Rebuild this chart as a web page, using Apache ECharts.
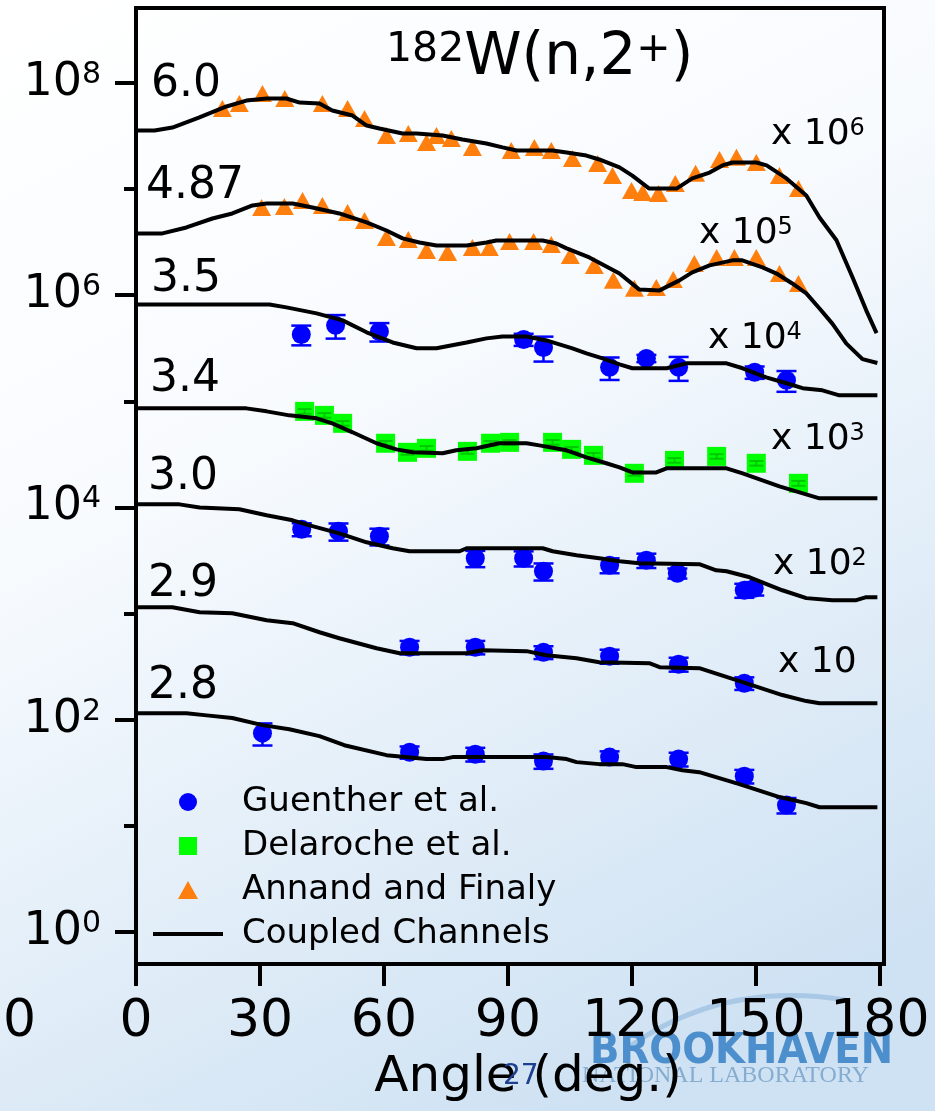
<!DOCTYPE html>
<html><head><meta charset="utf-8">
<script src="https://cdn.jsdelivr.net/npm/echarts@6/dist/echarts.min.js"></script>
<style>html,body{margin:0;padding:0;background:#fff;}#c{width:935px;height:1111px;}</style>
</head><body><div id="c"></div>
<script>
const FONT = '"DejaVu Sans", sans-serif';

// Energies (MeV) and the scale exponent applied to each curve
const energyLabels = ['6.0', '4.87', '3.5', '3.4', '3.0', '2.9', '2.8'];
const scaleExps = [6, 5, 4, 3, 2, 1, 0];
const scaleLabels = ['6', '5', '4', '3', '2', ''];

// Tick values (log10 decades)
const xTicks = [0, 30, 60, 90, 120, 150, 180];
const yMajor = [0, 2, 4, 6, 8];
const yMinor = [1, 3, 5, 7];

// Coupled-channels curves: [angle (deg), dsigma/dOmega (unscaled)]
const cc60 = [[0,35.6],[4.5,35.6],[8.8,38.0],[15.2,47.2],[21.9,60.0],[26.7,68.2],[31.6,71.3],[36.4,71.3],[39.6,65.3],[44.4,64.0],[47.5,55.0],[52.4,49.3],[55.8,39.7],[58.9,37.2],[64.5,33.4],[67.9,33.4],[74.2,32.0],[79.0,29.3],[84.8,26.9],[88.7,24.7],[92.1,23.1],[100.8,23.1],[104.2,22.1],[109.0,20.7],[112.1,19.0],[117.0,16.0],[120.1,13.4],[124.2,10.1],[130.8,10.1],[134.6,12.6],[138.8,14.3],[141.9,16.7],[144.3,17.8],[150.1,17.8],[152.6,16.7],[157.4,12.6],[162.2,8.7],[165.4,5.4],[169.5,3.3],[173.4,1.47],[176.7,0.72],[179.2,0.44]];
const cc487 = [[0,38.2],[6.4,38.2],[12.2,43.5],[18.5,52.8],[23.3,58.9],[28.2,70.1],[31.6,73.2],[37.9,73.2],[42.7,67.1],[49.2,58.9],[55.8,48.5],[60.6,40.7],[64.5,34.3],[68.6,31.4],[72.7,29.4],[80.0,29.4],[84.8,31.4],[87.2,32.8],[98.4,32.8],[101.7,30.7],[104.2,27.6],[109.7,22.7],[112.9,19.5],[117.0,16.0],[121.8,11.3],[126.7,11.1],[131.5,13.8],[134.6,16.4],[138.8,19.1],[144.3,21.3],[146.7,21.3],[151.6,18.3],[155.0,16.0],[158.8,12.9],[162.2,10.4],[165.4,7.5],[168.5,5.4],[171.9,3.5],[175.8,2.5],[179.4,2.3]];
const cc35 = [[0,81.9],[32.3,81.9],[36.4,76.8],[43.7,67.4],[50.0,57.9],[55.8,44.7],[62.1,35.9],[67.9,31.6],[72.7,31.6],[80.0,35.9],[84.8,39.2],[88.7,40.9],[94.5,40.9],[99.3,37.5],[105.6,31.6],[109.0,28.3],[112.9,25.4],[117.0,22.3],[120.1,20.5],[128.4,20.5],[133.2,22.8],[142.9,22.8],[146.8,20.5],[152.5,16.8],[157.4,14.8],[161.3,13.3],[166.1,12.7],[170.2,11.4],[179.4,11.4]];
const cc34 = [[0,85.9],[26.7,85.9],[31.6,80.5],[37.1,73.8],[43.7,69.2],[47.5,62.1],[52.4,51.1],[58.2,40.3],[63.0,35.3],[66.9,33.1],[74.2,32.4],[77.5,34.6],[82.4,36.1],[87.9,40.3],[94.5,40.3],[97.6,38.5],[104.2,34.6],[109.0,29.7],[113.8,26.1],[117.0,23.9],[120.1,21.4],[125.9,21.4],[128.4,23.4],[142.9,23.4],[146.8,21.0],[155.7,15.8],[165.4,12.2],[179.4,12.2]];
const cc30 = [[0,107],[10.5,107],[15.4,100],[25.0,96.2],[31.6,84.5],[37.9,75.7],[42.0,67.9],[49.2,57.1],[55.8,47.0],[62.1,41.3],[66.2,38.7],[78.3,38.7],[80.0,41.3],[98.4,41.3],[100.8,38.7],[106.6,35.5],[112.1,33.2],[117.0,31.1],[121.8,29.8],[136.3,29.2],[140.4,25.6],[142.9,25.1],[148.5,22.0],[156.4,16.6],[162.2,14.0],[168.5,13.4],[174.3,13.4],[176.7,14.3],[179.4,14.3]];
const cc29 = [[0,115],[8.8,115],[15.4,103],[23.3,101],[31.6,86.7],[37.9,81.3],[44.4,66.8],[49.2,58.6],[58.2,47.2],[63.8,42.4],[80.0,42.4],[83.8,45.2],[94.5,44.3],[99.3,40.6],[106.6,38.0],[112.1,34.9],[124.2,34.1],[126.7,31.3],[136.3,30.6],[146.8,22.6],[156.4,17.1],[162.2,15.0],[165.4,14.3],[179.4,14.3]];
const cc28 = [[0,115],[12.2,115],[17.1,110],[23.3,104],[30.6,89.0],[37.1,81.5],[44.4,70.1],[50.4,57.6],[60.6,46.4],[70.3,42.6],[74.2,42.6],[76.6,44.5],[99.3,44.5],[104.2,42.6],[106.6,39.9],[112.1,38.2],[117.7,38.2],[121.1,35.8],[128.4,35.8],[132.2,33.5],[136.3,32.1],[146.0,24.8],[155.7,18.7],[162.2,16.4],[165.4,15.0],[179.4,15.0]];

// Annand and Finaly: [angle, value]
const annand60 = [[20.9,57.4],[25.0,64.0],[30.6,79.4],[36.0,71.3],[45.1,64.0],[51.2,57.4],[55.3,46.2],[60.6,32.0],[65.9,33.4],[70.3,27.5],[72.7,32.0],[76.3,29.9],[81.4,24.7],[90.8,23.1],[96.4,24.7],[100.5,23.1],[105.6,19.4],[111.7,17.4],[115.3,13.4],[119.9,9.7],[122.6,9.3],[126.4,9.1],[130.5,11.3],[135.4,14.1],[141.2,19.0],[145.3,19.9],[150.1,17.8],[155.7,13.4],[160.3,10.1]];
const annand487 = [[30.4,67.1],[35.9,68.6],[40.3,78.1],[45.1,70.1],[51.2,60.2],[55.3,50.6],[60.6,35.0],[65.9,33.5],[70.3,26.4],[75.4,25.3],[81.4,28.2],[85.5,28.2],[90.4,32.1],[96.2,32.1],[100.5,30.1],[105.1,23.7],[110.9,19.1],[115.5,13.8],[120.6,11.6],[125.9,11.8],[130.0,14.1],[135.1,19.9],[140.5,22.7],[144.8,22.7],[150.1,22.7],[155.7,16.0],[160.3,12.9]];

// Guenther et al.: [angle, value, error]
const guen35 = [[40.0,42.7,9],[48.3,52.0,13],[58.9,45.6,9],[93.8,38.3,5],[98.6,32.2,8.5],[114.6,20.9,5],[123.5,25.4,2],[131.3,20.9,5.3],[149.7,18.8,2.5],[157.4,15.8,3.5]];
const guen30 = [[40.1,62.3,8.7],[49.0,59.7,11],[58.9,53.5,9.6],[82.1,33.2,5.8],[93.8,33.2,5.4],[98.6,25.1,4.6],[114.6,28.6,4.6],[123.5,31.8,4.9],[131.0,24.0,2.6],[147.2,16.6,2.5],[149.6,17.3,2.5]];
const guen29 = [[66.2,48.3,7],[82.1,48.3,7],[98.6,43.3,6],[114.6,39.7,6],[131.3,33.4,5],[147.2,22.1,3]];
const guen28 = [[30.6,74.8,17.6],[66.2,49.5,6.5],[82.1,47.4,7],[98.6,40.8,6.3],[114.6,44.5,5.9],[131.3,42.6,6.3],[147.2,29.4,4.3],[157.4,15.7,2.6]];

// Delaroche et al.: [angle, value, error]
const dela34 = [[40.8,80.5,4],[45.6,73.8,3.7],[50.0,62.1,3.1],[60.4,40.3,2],[65.7,33.1,1.7],[70.3,36.1,1.8],[80.2,33.8,1.7],[85.8,40.3,2],[90.4,41.1,2.1],[100.8,41.1,2.1],[105.4,35.3,1.8],[110.7,31.0,1.6],[120.6,21.0,1.1],[130.3,27.8,1.4],[140.5,30.3,1.5],[150.1,26.1,1.3],[160.3,16.9,0.9]];

const BLUE = '#0000ff', GREEN = '#00ff00', ORANGE = '#ff7f0e';

function lg(v, e) { return Math.log10(v) + e; }

function errSeries(points, e, color, capHalf, width) {
  return {
    type: 'custom', name: 'err', silent: true, z: 3,
    data: points.map(p => [p[0], lg(p[1] - p[2], e), lg(p[1] + p[2], e)]),
    encode: { x: 0, y: [1, 2] },
    renderItem(params, api) {
      const a = api.coord([api.value(0), api.value(1)]);
      const b = api.coord([api.value(0), api.value(2)]);
      const st = { stroke: color, lineWidth: width };
      return { type: 'group', children: [
        { type: 'line', shape: { x1: a[0], y1: a[1], x2: b[0], y2: b[1] }, style: st },
        { type: 'line', shape: { x1: a[0] - capHalf, y1: a[1], x2: a[0] + capHalf, y2: a[1] }, style: st },
        { type: 'line', shape: { x1: b[0] - capHalf, y1: b[1], x2: b[0] + capHalf, y2: b[1] }, style: st }
      ]};
    }
  };
}

const series = [];
// Annand triangles
[[annand60, 6], [annand487, 5]].forEach(([d, e]) => series.push({
  type: 'scatter', name: 'Annand and Finaly', symbol: 'triangle', symbolSize: [19, 17], z: 2,
  itemStyle: { color: ORANGE, opacity: 1 }, data: d.map(p => [p[0], lg(p[1], e)])
}));
// Delaroche squares
series.push(errSeries(dela34, 3, '#00c800', 7, 2));
series.push({
  type: 'scatter', name: 'Delaroche et al.', symbol: 'rect', symbolSize: 19, z: 2,
  itemStyle: { color: GREEN, opacity: 1 }, data: dela34.map(p => [p[0], lg(p[1], 3)])
});
// Guenther circles
[[guen35, 4], [guen30, 2], [guen29, 1], [guen28, 0]].forEach(([d, e]) => {
  series.push({
    type: 'scatter', name: 'Guenther et al.', symbol: 'circle', symbolSize: 19, z: 2,
    itemStyle: { color: BLUE, opacity: 1 }, data: d.map(p => [p[0], lg(p[1], e)])
  });
  series.push(errSeries(d, e, BLUE, 10, 2.5));
});
// Coupled channels curves
[cc60, cc487, cc35, cc34, cc30, cc29, cc28].forEach((d, i) => series.push({
  type: 'line', name: 'Coupled Channels', symbol: 'none', z: 5,
  lineStyle: { color: '#000', width: 4 }, itemStyle: { color: '#000' },
  data: d.map(p => [p[0], lg(p[1], scaleExps[i])])
}));

// Text annotations
const energyPos = [[151, 63], [146, 165], [151, 258], [150, 358], [148, 456], [148, 563], [148, 665]];
const scalePos = [[771, 117], [699, 216], [708, 321], [771, 422], [773, 547], [778, 645]];
const graphics = [];
energyLabels.forEach((t, i) => graphics.push({
  type: 'text', x: energyPos[i][0], y: energyPos[i][1], z: 10,
  style: { text: t, fontSize: 44, fontFamily: FONT, fill: '#000', align: 'left', verticalAlign: 'top' }
}));
scaleLabels.forEach((s, i) => graphics.push({
  type: 'text', x: scalePos[i][0], y: scalePos[i][1], z: 10,
  style: {
    text: s ? '{a|x 10}{s|' + s + '}' : '{a|x 10}', align: 'left', verticalAlign: 'top',
    rich: {
      a: { fontSize: 36, lineHeight: 36, fontFamily: FONT, fill: '#000' },
      s: { fontSize: 24, lineHeight: 14, fontFamily: FONT, fill: '#000', verticalAlign: 'top' }
    }
  }
}));
graphics.push({ type: 'text', x: 36, y: 996, z: 10,
  style: { text: '-30', fontSize: 52, fontFamily: FONT, fill: '#000', align: 'right', verticalAlign: 'top' } });
// logo (behind)
graphics.push({ type: 'bezierCurve', z: -1, silent: true,
  shape: { x1: 625, y1: 1050, cpx1: 720, cpy1: 980, x2: 845, y2: 1000 },
  style: { stroke: '#a8c8e6', lineWidth: 5, fill: null } });
graphics.push({ type: 'text', x: 590, y: 1030, z: -1,
  style: { text: 'BROOKHAVEN', fontSize: 43, fontWeight: 'bold', fontFamily: '"DejaVu Sans Condensed","Liberation Sans Narrow",sans-serif', fill: '#4d8fcc', align: 'left', verticalAlign: 'top' } });
graphics.push({ type: 'text', x: 582, y: 1064, z: -1,
  style: { text: 'NATIONAL LABORATORY', fontSize: 24, fontFamily: '"Liberation Serif", serif', fill: '#86acd0', align: 'left', verticalAlign: 'top' } });
graphics.push({ type: 'text', x: 503, y: 1063, z: 100,
  style: { text: '27', fontSize: 28, fontFamily: FONT, fill: '#1d3f8f', align: 'left', verticalAlign: 'top' } });

const chart = echarts.init(document.getElementById('c'), null, { renderer: 'canvas' });
chart.setOption({
  animation: false,
  backgroundColor: { type: 'linear', x: 0, y: 0, x2: 0.6, y2: 1,
    colorStops: [{ offset: 0, color: '#ffffff' }, { offset: 0.4, color: '#f8fbfe' }, { offset: 1, color: '#cfe2f3' }] },
  textStyle: { fontFamily: FONT },
  title: {
    text: '{s|182}{m|W(n,2}{s|+}{m|)}', left: 386, top: 30, padding: 0,
    textStyle: { fontWeight: 'normal', rich: {
      m: { fontSize: 58, lineHeight: 58, fontFamily: FONT, fontWeight: 'normal', color: '#000' },
      s: { fontSize: 41, lineHeight: 26, fontFamily: FONT, fontWeight: 'normal', color: '#000', verticalAlign: 'top' }
    } }
  },
  grid: { left: 136, right: 51, top: 8, bottom: 147, show: true, borderColor: '#000', borderWidth: 4, backgroundColor: 'transparent' },
  legend: {
    orient: 'vertical', left: 148, top: 780, itemWidth: 70, itemHeight: 18, itemGap: 10,
    selectedMode: false,
    textStyle: { fontSize: 34, lineHeight: 34, fontFamily: FONT, color: '#000', padding: [0, 0, 0, 14] },
    data: [
      { name: 'Guenther et al.', icon: 'circle' },
      { name: 'Delaroche et al.', icon: 'path://M0,0L1,0L1,1L0,1Z' },
      { name: 'Annand and Finaly', icon: 'path://M0.5,0L1,0.9L0,0.9Z' },
      { name: 'Coupled Channels', icon: 'path://M0,0L70,0L70,4L0,4Z' }
    ]
  },
  xAxis: {
    type: 'value', min: 0, max: 181,
    name: 'Angle (deg.)', nameLocation: 'middle', nameGap: 85,
    nameTextStyle: { fontSize: 50, fontFamily: FONT, color: '#000', padding: [0, 0, 0, 36] },
    axisLine: { show: true, onZero: false, lineStyle: { color: '#000', width: 4 } },
    axisTick: { show: true, inside: false, length: 22, customValues: xTicks, lineStyle: { color: '#000', width: 4 } },
    axisLabel: { customValues: xTicks, fontSize: 52, fontFamily: FONT, color: '#000', margin: 32 },
    splitLine: { show: false }
  },
  yAxis: [{
    type: 'value', min: -0.301, max: 8.706, position: 'left',
    axisLine: { show: true, onZero: false, lineStyle: { color: '#000', width: 4 } },
    axisTick: { show: true, inside: false, length: 21, customValues: yMajor, lineStyle: { color: '#000', width: 4 } },
    axisLabel: {
      customValues: yMajor, margin: 35,
      formatter: v => '{b|10}{s|' + v + '}',
      rich: {
        b: { fontSize: 46, lineHeight: 46, fontFamily: FONT, color: '#000' },
        s: { fontSize: 30, lineHeight: 14, fontFamily: FONT, color: '#000', verticalAlign: 'top' }
      }
    },
    splitLine: { show: false }
  }, {
    type: 'value', min: -0.301, max: 8.706, position: 'left', offset: 0,
    axisLine: { show: false, onZero: false },
    axisTick: { show: true, inside: false, length: 12, customValues: yMinor, lineStyle: { color: '#000', width: 4 } },
    axisLabel: { show: false },
    splitLine: { show: false }
  }],
  graphic: graphics,
  series: series
});
</script></body></html>
